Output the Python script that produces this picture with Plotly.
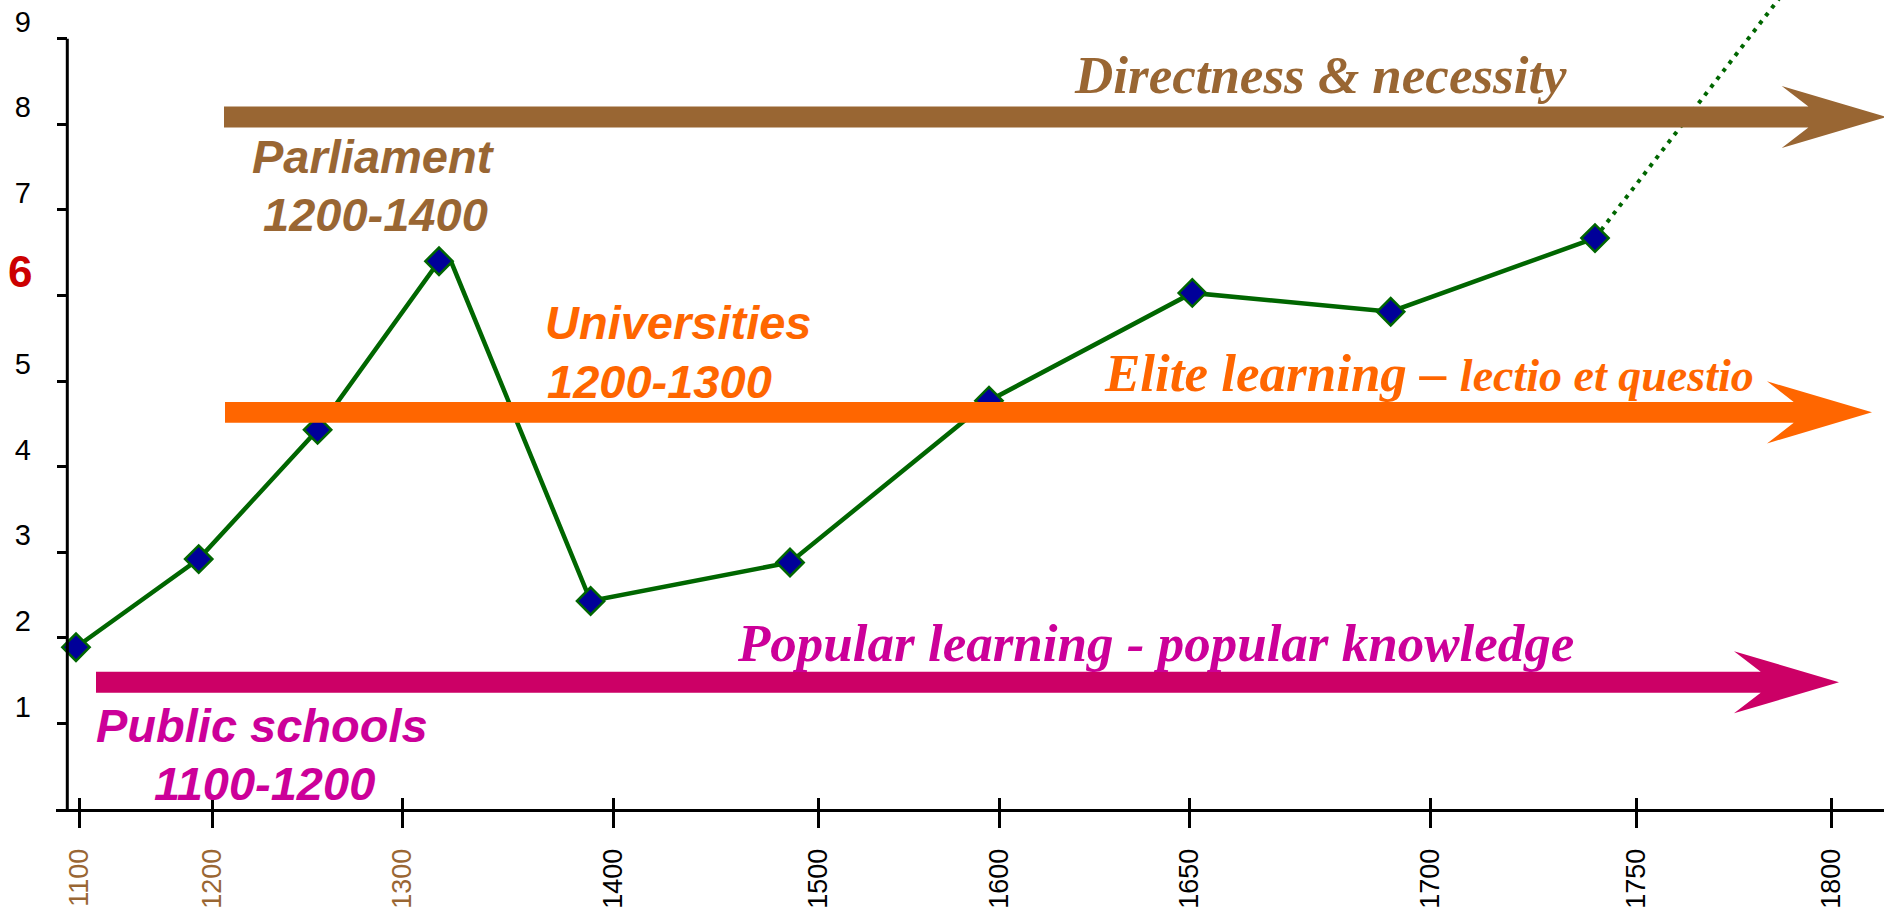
"""
Timeline of learning in Europe, 1100-1800: index line with era arrows.
"""
import plotly.graph_objects as go

# timeline positions of the tick marks (axis units) and their labels
TICK_POS = [2.33, 15.63, 34.67, 55.73, 76.23, 94.33, 113.33, 137.45, 158.03, 177.53]
TICK_LABELS = ["1100", "1200", "1300", "1400", "1500", "1600", "1650", "1700", "1750", "1800"]
EARLY_TICKS = ["1100", "1200", "1300"]

# index series (marked points)
POINT_POS = [2.0, 14.27, 26.16, 38.3, 53.46, 73.4, 93.3, 113.63, 133.47, 153.9]
POINT_VALUES = [1.89, 2.92, 4.43, 6.40, 2.43, 2.88, 4.77, 6.03, 5.81, 6.67]

# small shoulder right after the 1300s peak, drawn only in the line
SHOULDER_POS = 39.6
SHOULDER_VALUE = 6.37

# dotted projection beyond the last point
TREND_POS = [153.9, 175.8]
TREND_VALUES = [6.67, 10.0]

Y_TICKS = [1, 2, 3, 4, 5, 6, 7, 8, 9]
HIGHLIGHT_Y = 6

GREEN = "#006600"
BROWN = "#996633"
ORANGE = "#FF6600"
MAGENTA_BAR = "#CC0066"
MAGENTA_TEXT = "#CC0099"
RED = "#CC0000"
SANS = "Liberation Sans, Arial, sans-serif"
SERIF = "Liberation Serif, Times New Roman, serif"

X_RANGE = [0, 182.8]
Y_RANGE = [0, 9.452]


def arrow_path(x0, tip, yc):
    # thick shaft with a notched arrowhead, in data units
    head_len, notch, head_half, shaft_half = 10.5, 2.67, 0.363, 0.1215
    xb = tip - head_len
    xn = xb + notch
    pts = [
        (x0, yc + shaft_half), (xn, yc + shaft_half), (xb, yc + head_half),
        (tip, yc), (xb, yc - head_half), (xn, yc - shaft_half), (x0, yc - shaft_half),
    ]
    return "M " + " L ".join(f"{x},{y}" for x, y in pts) + " Z"


line_x = POINT_POS[:4] + [SHOULDER_POS] + POINT_POS[4:]
line_y = POINT_VALUES[:4] + [SHOULDER_VALUE] + POINT_VALUES[4:]

fig = go.Figure()
fig.add_trace(go.Scatter(
    x=TREND_POS, y=TREND_VALUES, mode="lines",
    line=dict(color=GREEN, width=4, dash="4px,6px"), hoverinfo="skip",
))
fig.add_trace(go.Scatter(
    x=line_x, y=line_y, mode="lines",
    line=dict(color=GREEN, width=4.5), hoverinfo="skip",
))
fig.add_trace(go.Scatter(
    x=POINT_POS, y=POINT_VALUES, mode="markers",
    marker=dict(symbol="diamond", size=21, color="#000099", line=dict(color=GREEN, width=2.5)),
))
# carrier for the inside half of the crossing x ticks
fig.add_trace(go.Scatter(x=[TICK_POS[0]], y=[None], xaxis="x2", hoverinfo="skip"))

tick_text = [
    f"<span style='color:{BROWN}'>{t}</span>" if t in EARLY_TICKS else t for t in TICK_LABELS
]
# the highlighted value gets its own, larger red label below
y_text = ["" if v == HIGHLIGHT_Y else str(v) for v in Y_TICKS]

shapes = [
    dict(type="line", xref="x", yref="y", x0=1.13, x1=1.13, y0=0, y1=9,
         line=dict(color="black", width=3)),
    dict(type="path", path=arrow_path(4.0, 178.3, 1.481), fillcolor=MAGENTA_BAR, line_width=0),
    dict(type="path", path=arrow_path(16.9, 181.6, 4.634), fillcolor=ORANGE, line_width=0),
    dict(type="path", path=arrow_path(16.8, 183.07, 8.085), fillcolor=BROWN, line_width=0),
]


def label(text, x, y, color, family, size, xanchor="center", italic=True, xref="x"):
    return dict(
        text=text, x=x, y=y, xref=xref, yref="y", xanchor=xanchor, yanchor="middle",
        showarrow=False,
        font=dict(family=family, size=size, color=color, weight="bold",
                  style="italic" if italic else "normal"),
    )


annotations = [
    label(str(HIGHLIGHT_Y), -0.012, 6.28, RED, SANS, 44, "right", italic=False, xref="paper"),
    label("Parliament", 31.75, 7.62, BROWN, SANS, 47),
    label("1200-1400", 31.9, 6.95, BROWN, SANS, 47),
    label("Universities", 48.73, 5.68, ORANGE, SANS, 47, "left"),
    label("1200-1300", 48.9, 5.0, ORANGE, SANS, 47, "left"),
    label("Public schools", 20.6, 0.97, MAGENTA_TEXT, SANS, 47),
    label("1100-1200", 20.8, 0.3, MAGENTA_TEXT, SANS, 47),
    label("Directness &amp; necessity", 151.3, 8.57, BROWN, SERIF, 53, "right"),
    label("Elite learning – <span style='font-size:46px'>lectio et questio</span>",
          104.57, 5.09, ORANGE, SERIF, 53, "left"),
    label("Popular learning - popular knowledge", 67.9, 1.943, MAGENTA_TEXT, SERIF, 53, "left"),
]

fig.update_layout(
    width=1884,
    height=909,
    margin=dict(l=56, r=0, t=0, b=92.3),
    paper_bgcolor="white",
    plot_bgcolor="white",
    showlegend=False,
    xaxis=dict(
        range=X_RANGE, tickmode="array", tickvals=TICK_POS, ticktext=tick_text,
        tickangle=-90, ticks="outside", ticklen=16, tickwidth=3, tickcolor="black",
        ticklabelstandoff=10,
        tickfont=dict(family=SANS, size=27, color="black"),
        showline=True, linewidth=3, linecolor="black",
        showgrid=False, zeroline=False,
    ),
    xaxis2=dict(
        range=X_RANGE, overlaying="x", anchor="y", side="bottom",
        tickmode="array", tickvals=TICK_POS, ticks="inside", ticklen=11, tickwidth=3,
        tickcolor="black", showticklabels=False, showgrid=False, zeroline=False, showline=False,
    ),
    yaxis=dict(
        range=Y_RANGE, anchor="free", position=0.00618,
        tickmode="array", tickvals=Y_TICKS, ticktext=y_text,
        ticks="outside", ticklen=10.5, tickwidth=3, tickcolor="black",
        ticklabelshift=-17, ticklabelstandoff=20,
        tickfont=dict(family=SANS, size=29, color="black"),
        showline=False, showgrid=False, zeroline=False,
    ),
    shapes=shapes,
    annotations=annotations,
)

fig.write_html(
    "out.html",
    config={"displayModeBar": False},
    post_script="document.body.style.margin='0';",
)
